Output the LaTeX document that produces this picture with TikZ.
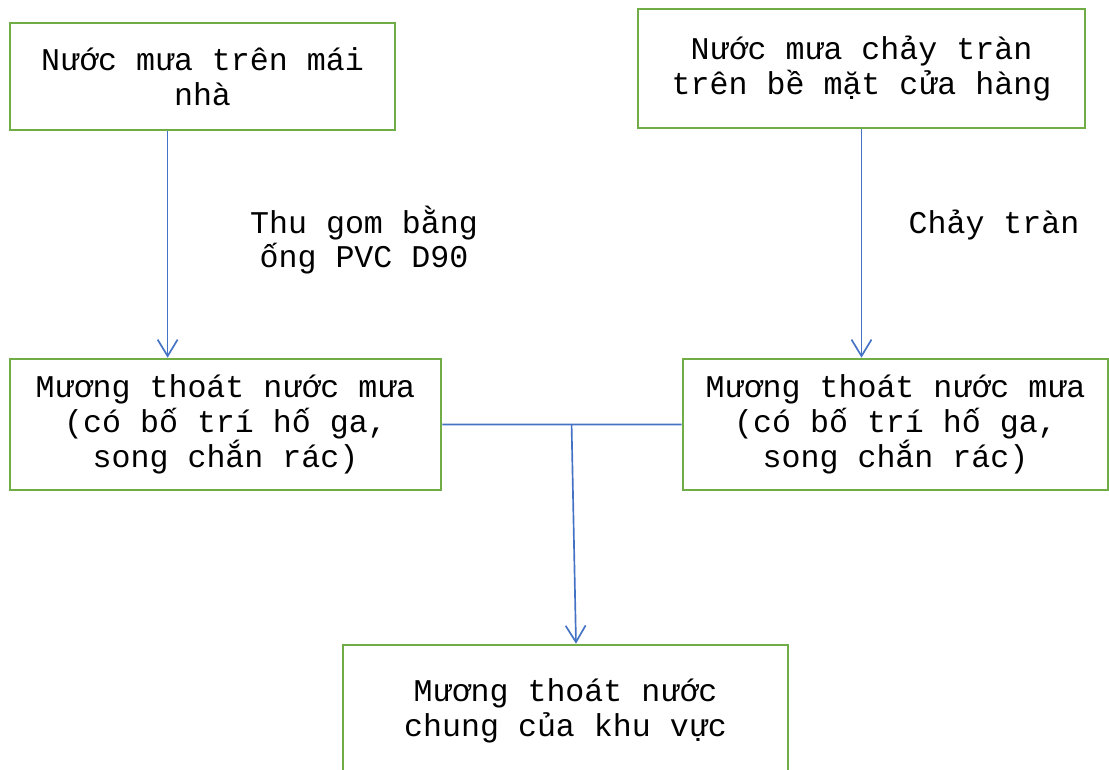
\documentclass[tikz,border=0pt]{standalone}
\usepackage{fontspec}
\setmainfont{Liberation Mono}
\usetikzlibrary{arrows.meta,calc}

\definecolor{boxgreen}{HTML}{70AD47}
\definecolor{lineblue}{HTML}{4472C4}

\tikzset{
  box/.style={draw=boxgreen, line width=1.5pt, align=center, inner sep=0pt,
    font=\fontsize{18pt}{19.8pt}\selectfont},
  flow/.style={draw=lineblue, line width=0.95pt},
  flowarrow/.style={flow, -{Straight Barb[length=3.3mm,width=4mm,line width=0.95pt]}},
  lbl/.style={align=center, font=\fontsize{18pt}{19.8pt}\selectfont}
}

\begin{document}
\begin{tikzpicture}[x=0.02cm, y=-0.02cm]

      \useasboundingbox (0,0) rectangle (1109,769);

      \node[box, minimum width=7.7cm, minimum height=2.14cm] (roof) at (202.5,76.5)
        {Nước mưa trên mái\\nhà};
      \node[box, minimum width=8.94cm, minimum height=2.38cm] (surface) at (861.5,68.5)
        {Nước mưa chảy tràn\\trên bề mặt cửa hàng};
      \node[box, minimum width=8.62cm, minimum height=2.62cm] (ditchL) at (225.5,424.5)
        {Mương thoát nước mưa\\(có bố trí hố ga,\\song chắn rác)};
      \node[box, minimum width=8.5cm, minimum height=2.62cm] (ditchR) at (895.5,424.5)
        {Mương thoát nước mưa\\(có bố trí hố ga,\\song chắn rác)};
      \node[box, minimum width=8.9cm, minimum height=2.64cm] (common) at (565.5,711)
        {Mương thoát nước\\chung của khu vực};

      \node[lbl] (lblpipe) at (364,240) {Thu gom bằng\\ống PVC D90};
      \node[lbl] (lblflow) at (994,225) {Chảy tràn};

      \draw[flowarrow] ($(roof.south west)!0.41!(roof.south east)$) coordinate (r1)
        -- (r1 |- ditchL.north);
      \draw[flowarrow] (surface.south) -- (surface.south |- ditchR.north);

      \draw[flow] (ditchL.east) -- ($(ditchL.east)!0.54!(ditchR.west)$) coordinate (join)
        -- (ditchR.west);
      \draw[flowarrow] (join) -- ([xshift=0.21cm]common.north);

\end{tikzpicture}
\end{document}
